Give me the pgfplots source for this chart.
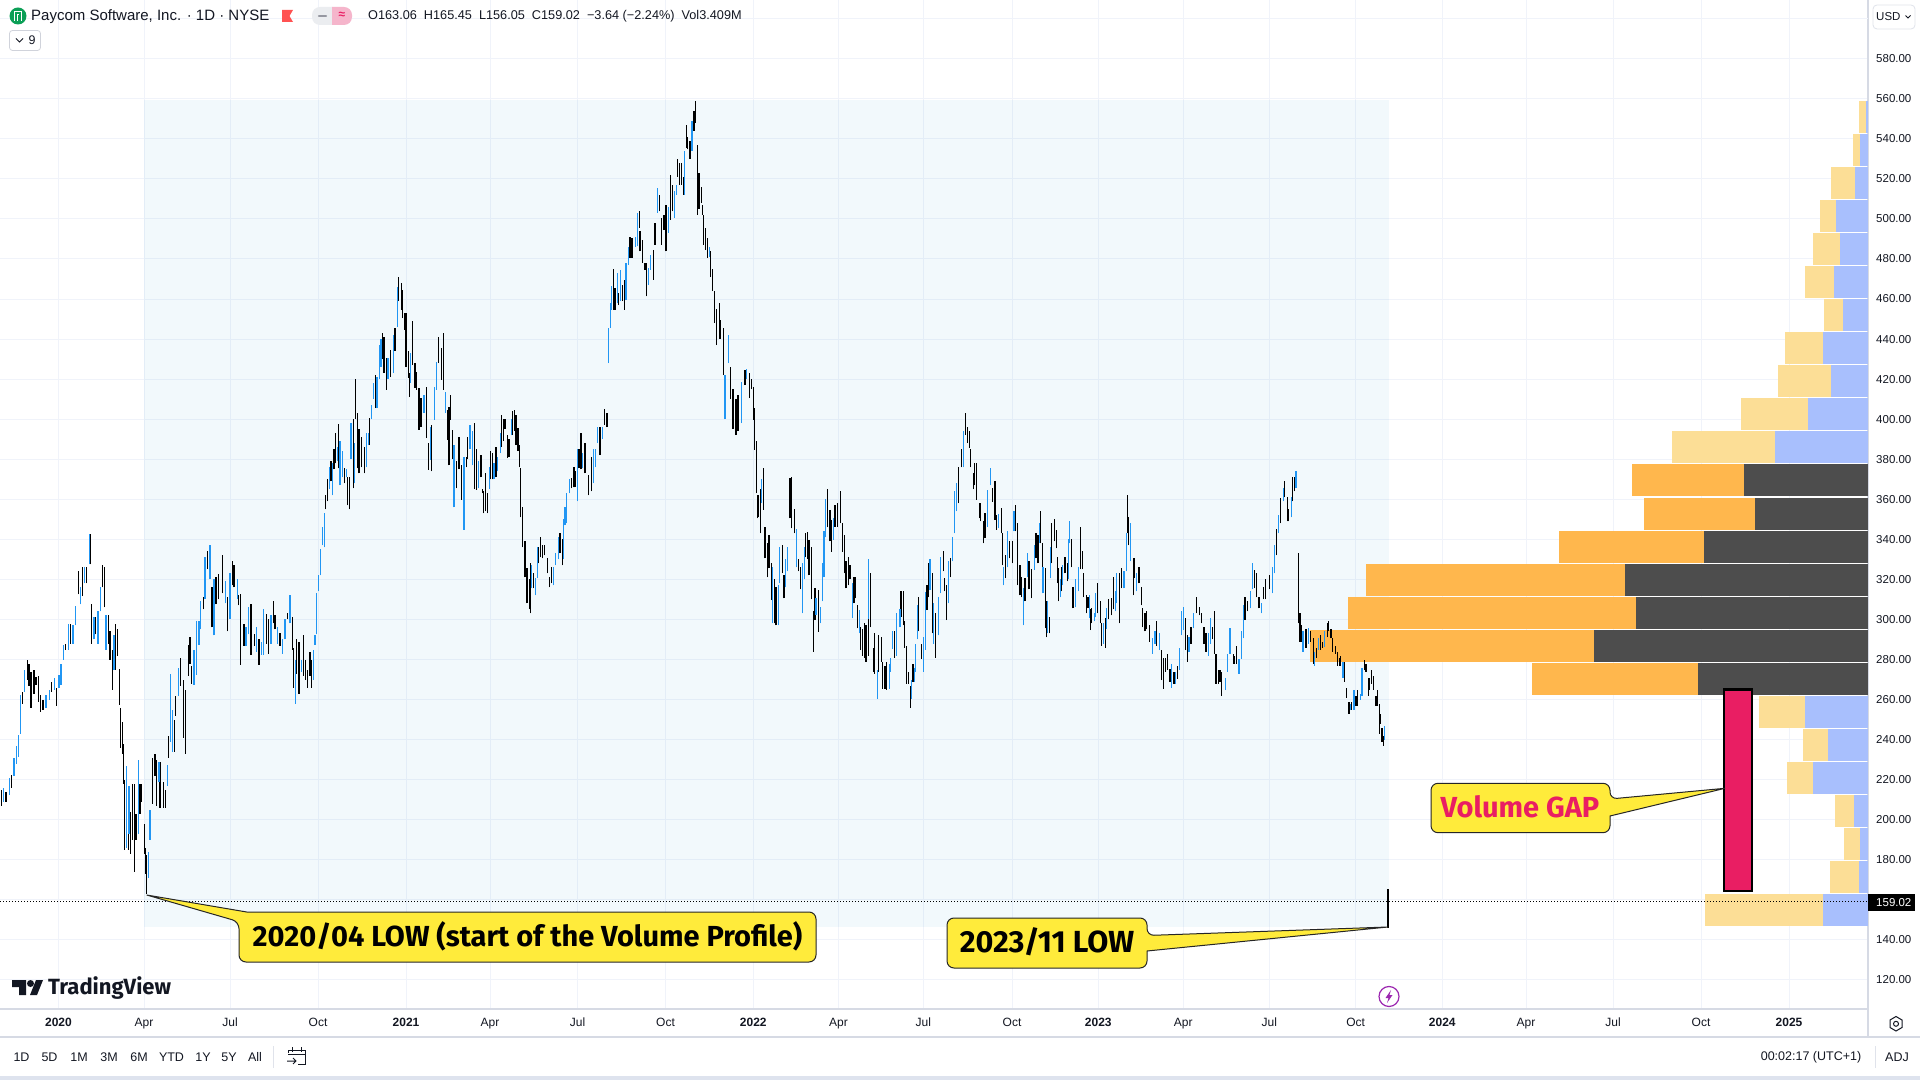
\documentclass[border=0pt]{standalone}
\usepackage{fontspec}
\setmainfont{Liberation Sans}
\newfontfamily\callfont{Fira Sans}
\usepackage{pgfplots}
\usepackage{pgfplotstable}
\pgfplotsset{compat=1.18}

\definecolor{gridc}{HTML}{F0F3FA}
\definecolor{linec}{HTML}{D6DAE4}
\definecolor{txt}{HTML}{131722}
\definecolor{upc}{HTML}{2196F3}
\definecolor{vaorange}{HTML}{FFB74D}
\definecolor{vadark}{HTML}{4D4D4D}
\definecolor{outyellow}{HTML}{FCDE96}
\definecolor{outblue}{HTML}{A8BFFD}
\definecolor{callc}{HTML}{FFEB3B}
\definecolor{pinkc}{HTML}{E91E63}
\definecolor{shade}{RGB}{0,140,200}
\definecolor{logogreen}{RGB}{11,159,86}
\definecolor{flagred}{RGB}{255,82,82}
\definecolor{pillgray}{RGB}{235,237,240}
\definecolor{pillpink}{RGB}{245,181,203}
\definecolor{dashgray}{RGB}{150,152,161}
\definecolor{boxline}{RGB}{208,211,219}
\definecolor{sepline}{RGB}{224,227,235}
\definecolor{bottombar}{RGB}{222,227,238}
\definecolor{boltc}{RGB}{156,39,176}

% daily bars, x is the screen column of the bar, lo and hi are prices
\pgfplotstableread{
x lo hi
1.7 207 215
6 209 214
11.7 216 222.5
22.7 258 264
27.3 270 280
29 267 278
31 256 274
34 263 275
36 267.5 271.5
38.3 259 272
40.7 254 262.5
43 255 260
51.7 264 269
56.7 257 266
65.7 285 288
70.7 288 297.5
78.3 312.5 324
82.3 311.7 326
86.7 318 326
90.3 327.5 342.5
91.7 288 307.5
95.7 292.5 301
102.3 316 327
104.3 306 326
108.3 288 302
110 280 294
112.3 265 285
115.7 275 297.5
117.3 282 295
119.3 257.5 275.5
120.3 236 256
122.3 233 249
123.3 218 238
124.7 185 220
128.3 185 205
130.7 183 204
132.3 190 218
134.3 174 218
136 190 203
140 203 218
141.7 209 218
144.3 183 198
145.7 173 186
146.7 163 182.5
152.7 208 231
155 222 233
156.7 207 230
160 206 229
163.3 206 219
165.7 206 215
168.3 231 242
174.3 234 250
175.7 252 262
180.3 267 281
183.3 241 270
185.3 233 265
188.3 272 287.5
190 278 291
191.7 268 277
203.3 305 311
207.3 325 334
212 296 316
216 307.5 321
218.3 310 322.5
222.7 313 332
227.7 294 311
232.3 317 329
234 316 327
238.7 307 312
240.7 277.5 312.5
244 287 297.5
251 282.5 307.5
254.3 287 292.5
259 277.5 290
266.7 288 302.5
268.3 283 300
273.3 298 309
275 295 302
280 287 293
287.3 300 303
292.3 285 301
293.3 266 286
296.7 273 290
299 263 289
303.3 272 292
305.7 270 280
307.7 266 275
310 272 284
311.7 266 280
325.3 355 362
327.7 359 370
331 369 379
334 375 385
335.7 378 393
338.3 375.5 397.7
344.3 368 375.5
347.3 357 371
349.3 355 371
353.3 365.5 400
355.7 400 420
357.7 375.5 403
359 373 395
361.7 376 391
364.3 373 386
369.3 387 400.5
375.7 405.5 422
382.7 430 443
384 423 441
386.7 414.7 430.5
390.7 421 434.7
395 434 445.5
398.7 459 471
401.7 454.7 468
402.3 450.5 464.7
405 444.7 453
406 426 453
408.3 420.5 434
409.3 411 423
412.7 427 449
415 415.5 428
416.7 414.7 423.8
419 394.7 415.5
421 396 410.5
426.7 390.5 416
428.3 374.7 388
431.7 374 397
438.7 428 441
441.7 419.7 435.5
443.3 414.7 443
447.3 389.7 404.7
449 377 406
450.3 399.7 412
452.3 380 394.7
456.7 365.5 379
459 375 391
461.7 359.7 377
466.7 376 381
467.7 380 391
474.3 365 398
476.3 364.7 385
481 371 382
482.3 363 365
483.7 353 364
485.7 354 373
487.3 353 363
490.3 370 384
492.7 370 383
496 371 386
501.3 386 402
503.3 389 400
505 395 400
507.3 380.5 392
509 381 390
512.7 392 404
514.7 394 404.5
516 387 402
518 384 395.5
519.3 376 387
520.3 351 375.5
522.3 336 356
525 321 339
527 308 325.5
529.3 305 320
530.3 303 328
533.7 315.5 323
538.3 328 336
540.3 331 341
542.3 330.5 337
544.7 332 337
547.3 323 330.5
549.3 316 321
551.3 318 326
560 333 343
562.7 327 340
571.7 365.5 370.5
574 366 376
575 366 374
579 375.5 385
581 375 393
585 373 388
588.3 362 372
591.7 364 381
600 382 396
604.3 397 405
607 396 403
613.3 454.7 475
615 454.7 465.5
618.7 457 463
622.7 459 467
624.3 454.7 469.7
630 480.5 491
632 480.5 490.5
639.3 495.5 503.8
640 483.8 493.8
642.7 478 489.7
645 474.7 478
646.7 461.3 478
653.3 469.7 484.7
655 487 498
659.3 503.8 512
661.7 487 500.5
664 494.7 502
666 483.8 507
670.3 499.7 522
672.7 503.8 517
677.7 521 530
679.3 517 528
681.3 517 528
683.3 512 521
686.3 535.5 547
687.3 534.7 541
690 530 539
694 544 554
695.3 548 559
697.3 502 537
699 505 523
701.7 508 516
702.7 502 507
703.7 487 502
705.3 484.7 495.5
707.3 480.5 490.5
710.7 471 484
712.7 464 475
714.3 448 464
716.7 437 455
719.3 440 458
720.7 440 449.7
723.3 422 445.5
730.7 410 426
733 395 415
736 392 410
738 394 412
745 417 424.7
749.3 410.5 423
751.7 415 420
753.3 399.7 416
754.3 384.7 405.5
756.3 363 389
757.3 350.5 362
758.7 351 362
760.3 343 365
763.3 354.7 375.5
765 330.5 346
767.7 321 338
769 325.5 342
771.7 309.7 328
774.3 298 320
776 297 316
782.3 323 337
784 310.5 322
790 350.5 370.5
791.7 345.5 371
794.3 343 355
798.3 324 330
800.7 315 326
805.7 331 343
807.7 330 343.8
809 322 339.7
811.7 310 336
813.3 284 304
815 299.7 315.5
818.7 293.8 314.7
827.3 346 365
830 339 354.7
831.3 333.8 349.7
835 346.3 357
837.7 346.3 358
840.7 348 364
842.3 333.8 348
844.3 323 342
846 315.5 329
848.3 317 331
850 320 327
854 308 321
855.7 310.5 321
857.3 295.5 307
860.7 284.7 296
862.7 282 295
864.3 281 298
866 279 297
868.3 282 300
870.3 296 323
873.3 274 286
874.3 273 293
878.7 274 292
881.3 279 291
882.7 265.5 279
885 265.5 277
886.7 265 279
894.3 281 294
901 301 314
903.3 297 314
904.7 286 299
906.7 268 287
908.3 268 274
910.3 256 267
913 269 278
918.7 294 311
921.7 280.5 288
927 304.7 317
928.7 311 328
932.7 293 323
935.7 281 303
943.3 324 334
944.7 314 320.5
946.7 299.7 317
950.7 321 330.5
958.7 358 376
961.3 376 385
965.7 392 403
967.7 388 396
969.3 385.5 394
970.3 376 385
973.3 365 373
974.3 367 378
976.7 359.7 378
979.3 350.5 358
980.7 349 358
983.7 338 349
985 340.5 353
992.3 358.8 365.5
995 349.7 369
996.7 344.7 352
1001.3 343 355.5
1002.7 327 343
1005.7 320.5 332
1009.7 330.5 339
1012.3 328 339
1015.7 344 357
1017.7 317 348
1020 312 327
1021.3 311 321
1025 309 320.5
1029 315 329
1031.7 310.5 325
1036 330.5 343
1038 328 342
1040.7 338 354
1042.7 316 338
1045.3 295.5 325.5
1046.3 291 309
1049.3 293 301
1051.7 328 348
1054.3 339 350
1056.3 335.5 344.7
1057.3 318 331
1058.7 309 325.5
1061.7 314 326
1065 323 331
1067.3 319 328
1071.3 326 340
1073 305.5 316
1080.3 325 346
1082.3 325 334
1083.3 311 323
1086.3 303 312
1088 305.5 311
1090.3 294.7 305
1091.7 298 305.5
1097.3 303 318
1100.3 298 309
1101.7 287 298
1105.3 286 300.5
1108.3 300 310
1111.7 302 310.5
1113.3 305 321
1119.3 298 323
1121.7 315.5 325.5
1127.3 343 362
1128.3 337 351
1133.3 312 330.5
1134.3 320.5 330.5
1139 318 326
1141.3 307 316
1142.7 296 305.5
1145 294 303
1146.7 295 304
1149.3 289 297
1156.7 287 299
1161.7 269.7 284.7
1163.3 265.5 281
1165.7 274 281
1167.7 275 283
1170 269 275.5
1174 268 274
1177.7 270.5 277
1185.7 284.7 300.5
1187.7 279 292
1191 288 296
1196.7 303 311
1199.3 302 306
1201.7 298 303
1204 288 296
1206 284 293
1212.3 290 296
1214.3 283 304
1216 268 283
1218.3 268 274.7
1220 269 275
1221.7 262 273.8
1233.3 278 283
1234.7 278 282
1236.7 278 287
1245 299.7 311
1247.7 304 309
1254.3 315.5 324.7
1256.7 311 323
1259 305.5 311
1263.3 310 316
1265.7 310 320
1269.3 315 322
1276.7 332 345
1280.7 348 360.5
1284.7 361 369
1287.3 349 361
1288.7 349 355
1292.7 359 371
1294.3 364 371
1298.3 298 333
1300 289 303
1301 289 297
1306 286 295
1310.3 289 294
1313.3 278 290.5
1316.7 281 286
1320.7 285 292
1322.7 286 289
1327.3 291 298
1328.7 294 299
1331 290.5 295
1332.7 284 290.5
1335.3 283 287
1337.3 277 284
1339.3 277 281
1340.7 277 282
1344.3 269 279
1346.7 261 266
1349 253 259
1351.7 255 259
1356 257 262
1357.7 257 265
1364.3 275 280
1366 274 278
1368.3 262 271
1369.7 265 271
1371.3 268 275
1373.3 265 272
1376 257 262
1377.3 257 265
1379.3 243 258
1380.3 248 253
1382 239 246
1383.3 237 242
1388 146 165.45
}\downbars

\pgfplotstableread{
x lo hi
3.3 209 216
9.3 212.5 221
14 222 231
16.7 228 237
18.7 231.5 242.5
20.3 243 262.5
24.3 264 275
46 256 262.5
49.3 260 265
54.3 265 271
59 266 272.5
61 267.5 278
63.3 280 287.5
68.7 285 297.5
73 288 297
75.7 297 306.7
80.3 307.5 316
84.3 318 326
89.3 327.5 342.5
94 290 301
98 288 304
100.3 304 316
106 285 302
114 275 292
126.7 186 227
129 193 217
138.3 193 230
148.3 171 184
150 190 205
159 219 229
167.3 217 227.5
170.3 239 273
172.7 234 255
178.3 262 276
194 267.5 285
196.7 272.5 299
199 287.5 299
200.7 295 309
205 310 331
210 320 337
214 292 320
225.7 308 319
230 300 323
237.3 310 320
246 287 296
248.3 292.5 306
256.7 284 296
261.7 282.5 289
263.3 282.5 305
271 288 302
277.3 288 296
282.7 283 290
285 290 300
290 298 312
295.3 258 280
301.7 274 280
313.7 270 285
315 287.5 292
316.7 292.5 313
318.3 314 322
320.7 322 335
322.3 337 346
324.3 336 353
329.3 365 376
332.7 362 378
337.3 379 386
340 367 389
342.3 371 384
346.3 371 375
351 380 398
354.7 368 388
366.7 376 393
368.3 387 393
371.7 400 407
373.3 410 418
377 405.5 421
379.3 420 437
381 426.3 440
388 420 430.5
393.3 423 442
397.3 446 466
410.3 418 433
424 403 412
430.7 379.7 396
434.7 399.7 416.3
436.7 414.7 428.8
445.7 403 413.8
454 356 387
464 344.7 381
470 385 397
472.3 377 394
478.3 365.5 379
489.3 365 376
494 370 378
497.7 374 381
500.3 383 393
511.3 392 400
531.7 315.5 327
535.3 312 320.5
537.7 320.5 336
553.3 317 326
555.7 327 333
558.3 330 341
563.7 330 350
565 347 356
566.7 348 363
569.3 363 370
577.3 359 385
582.7 375.5 383
593.3 368 385
595.3 376 385
597.3 388 396
602.3 390 396
608.3 428 445.5
610.3 445.5 458
611.7 454.7 466.7
617.3 458 473
620.7 459 474.7
626 459.7 478
628.3 477 486
635.3 486 491
637.3 486.3 503
648.3 467 475.5
650.7 474.7 482
657.7 503 515.5
668.3 493 506
674.3 500.5 514
676.7 512 517
684.3 512 534
692 534 549
709.3 481 486
725 400 422
728.3 428 442
741.7 398 418.8
746.7 420 425
761.7 358 370
772.7 298 326
778.3 297 317
779.7 318 336
785.7 316 330
787.3 324 336
796.7 326 345
802.3 303 328
804.3 320 336
816 302 310.5
820.3 298 306.3
822.7 309 328
824 321 344
825.7 341 360
833.3 339.7 350.5
852.3 300.5 318
859.3 293 304.7
868.3 300 330
877.3 260.5 275
889.3 265.5 278
890.3 274 281
892.7 285.5 294
896.7 282 303
900 296 305.3
911.3 260.5 270
914.3 269 276
915.7 274 288
917.7 290 307
923.3 274 291
925.3 285 313.8
930 314.7 330
933.7 288 308
938.3 292 311
940.7 313 331
948.3 308 329
952.3 329 341
954.3 343 364
956.7 354 368
963.3 376 394
987.7 346.3 364.7
990.7 367 375.5
998.7 345.5 352.5
1003.7 317 326
1007.7 326 344
1014 344 354
1023.7 297 315.5
1027.3 321 333
1034.3 324.7 337
1039.7 338 348
1043 313 326
1047.3 293 309
1050.7 320.5 336
1060.7 311 320
1062.7 317 327
1068.3 320 340
1069.3 338 349
1075.7 306 320
1078.7 314 326
1089.3 300.5 312
1094.3 299 303
1095.3 301 313
1103.3 288 298
1106.7 295 305.5
1115.7 304 314
1116.7 308 323
1124 315.5 324
1126.3 324 343
1130.7 329 348
1136.7 314 323
1152.7 283 290.5
1155 288 294
1159.7 284.7 293
1171.7 266 278
1175.3 268 274
1179.3 274.7 286
1181.7 292 304
1183.3 294.7 306
1189 284 291
1193.3 295.5 303
1208.3 282 293
1210.7 288 300.5
1225.7 264.7 271
1227.3 273.8 283
1230 283 295.5
1239 273 280.5
1241.3 280.5 294
1243.3 290.5 307
1250.3 305.5 314
1252.3 315 328
1261.7 303 308
1272.3 313 326
1274.3 323 337
1278.3 343 352
1283.3 359 365.5
1291.7 351 361
1296 365.5 374
1303 284 294
1308.3 288 295.5
1314.3 277 284
1318.3 285 290.5
1324.7 286.3 294
1343 271 279
1350.7 255 258
1354 255 265
1360.7 260 263
1362 262 276
1384.3 240 247
}\upbars

% volume profile rows: centre price, left end, split, right end (screen columns)
\pgfplotstableread{
p l s r
270.4 1532 1698 1868
286.9 1310 1594 1868
303.4 1348 1636 1868
319.9 1366 1625 1868
336.4 1559 1704 1868
352.9 1644 1755 1868
369.4 1632 1744 1868
}\vainside

\pgfplotstableread{
p l s r
154.9 1705 1823 1868
171.4 1830 1859 1868
187.9 1844 1860 1868
204.4 1835 1854 1868
220.9 1787 1813 1868
237.4 1803 1828 1868
253.9 1759 1805 1868
385.9 1672 1775 1868
402.4 1741 1808 1868
418.9 1778 1831 1868
435.4 1785 1823 1868
451.9 1824 1843 1868
468.4 1805 1834 1868
484.9 1813 1840 1868
501.4 1820 1836 1868
517.9 1831 1855 1868
534.4 1853 1860 1868
551 1859 1866 1868
}\vaoutside

\pgfplotsset{
  bars/.style={forget plot, no marks, draw=none,
    error bars/.cd, y dir=plus, y explicit, error mark=none,
    error bar style={draw=#1, line width=1.2pt}},
  row/.style={forget plot, no marks, draw=none,
    error bars/.cd, x dir=plus, x explicit, error mark=none,
    error bar style={draw=#1, line width=32pt}},
}

\begin{document}
\begin{tikzpicture}
\path[use as bounding box, fill=white] (0,0) rectangle (1920pt,1080pt);

\begin{axis}[
    at={(0pt,71pt)}, anchor=south west,
    scale only axis, width=1868pt, height=1009pt,
    xmin=0, xmax=1868, ymin=105.5, ymax=609.3,
    axis x line=bottom, axis y line=right,
    axis line style={-, draw=linec, line width=1.5pt},
    major tick length=0pt,
    grid=major, grid style={draw=gridc, line width=1pt},
    ytick={120,140,...,580},
    extra y ticks={600}, extra y tick labels={},
    extra y tick style={grid=major},
    /pgf/number format/assume math mode=true,
    /pgf/number format/fixed, /pgf/number format/fixed zerofill,
    /pgf/number format/precision=2, /pgf/number format/1000 sep={},
    yticklabel style={font=\fontsize{11.5}{13}\selectfont, text=txt, inner sep=0pt, anchor=west, xshift=8pt},
    xtick={58.5,144,230,318,406,490,577.5,665.5,753.3,838.5,923.3,1012,1098.3,1183.3,1269.3,1355.7,1442.3,1526,1613,1701,1789},
    xticklabels={\textbf{2020},Apr,Jul,Oct,\textbf{2021},Apr,Jul,Oct,\textbf{2022},Apr,Jul,Oct,\textbf{2023},Apr,Jul,Oct,\textbf{2024},Apr,Jul,Oct,\textbf{2025}},
    xticklabel style={font=\fontsize{12}{14}\selectfont, text=txt, inner sep=0pt, anchor=base, yshift=-17pt},
]
% range of the volume profile
\addplot[forget plot, draw=none, fill=shade, fill opacity=0.05]
    coordinates {(144,146.5) (1389,146.5) (1389,559.5) (144,559.5)} --cycle;

\addplot[row=vaorange] table[x=l, y=p, x error expr=\thisrow{s}-\thisrow{l}] {\vainside};
\addplot[row=vadark] table[x=s, y=p, x error expr=\thisrow{r}-\thisrow{s}] {\vainside};
\addplot[row=outyellow] table[x=l, y=p, x error expr=\thisrow{s}-\thisrow{l}] {\vaoutside};
\addplot[row=outblue] table[x=s, y=p, x error expr=\thisrow{r}-\thisrow{s}] {\vaoutside};

\addplot[bars=black] table[x=x, y=lo, y error expr=\thisrow{hi}-\thisrow{lo}] {\downbars};
\addplot[bars=upc] table[x=x, y=lo, y error expr=\thisrow{hi}-\thisrow{lo}] {\upbars};

% last price
\addplot[forget plot, black, line width=0.8pt, dash pattern=on 1pt off 2pt] coordinates {(0,159.02) (1868,159.02)};
\end{axis}

% screen furniture, written in screen pixels
\begin{scope}[x=1pt, y=-1pt, yshift=1080pt, font=\fontsize{12.5}{14}\selectfont, text=txt]
  % callouts
  \draw[fill=callc, draw=black!85, line width=1pt]
    (246.7,912) [rounded corners=7pt] -- (816,912) -- (816,962) -- (239,962) -- (239,921.7) [sharp corners] -- (146.7,895) -- cycle;
  \node[font=\callfont\bfseries\fontsize{29}{32}\selectfont, text=black] at (527.5,936) {2020/04 LOW (start of the Volume Profile)};
  \draw[fill=callc, draw=black!85, line width=1pt]
    (1000,918) [rounded corners=7pt] -- (1147,918) -- (1147,935.5) [sharp corners] -- (1388,927) -- (1147,951) [rounded corners=7pt] -- (1147,968) -- (947,968) -- (947,918) -- cycle;
  \node[font=\callfont\bfseries\fontsize{30.5}{33}\selectfont, text=black] at (1047,942) {2023/11 LOW};
  \draw[fill=pinkc, draw=black, line width=2.2pt] (1724,689.5) rectangle (1752,891);
  \draw[fill=callc, draw=black!85, line width=1pt]
    (1500,783.3) [rounded corners=7pt] -- (1610,783.3) -- (1610,799) [sharp corners] -- (1725,788.3) -- (1610,816) [rounded corners=7pt] -- (1610,832.7) -- (1431,832.7) -- (1431,783.3) -- cycle;
  \node[font=\callfont\bfseries\fontsize{29}{32}\selectfont, text=pinkc] at (1520,807) {Volume GAP};

  % axis furniture
  \fill[black] (1868,894) rectangle (1915,911);
  \node[text=white, font=\fontsize{11.5}{13}\selectfont, inner sep=0pt, anchor=west] at (1876,902.5) {159.02};
  \draw[linec, line width=1.5pt] (0,1037) -- (1920,1037);
  \draw[linec, line width=1.5pt] (1868,1009) -- (1868,1037);
  \fill[bottombar] (0,1076) rectangle (1920,1080);

  % header
  \fill[logogreen] (18,16) circle (8.5);
  \draw[white, line width=1.6pt] (14.5,21) -- (14.5,11.5) -- (21.5,11.5) -- (21.5,21);
  \draw[white, line width=1.3pt] (17.5,21) -- (17.5,14.5) -- (19,14.5);
  \node[anchor=west, inner sep=0pt, font=\fontsize{15}{17}\selectfont] at (31,16.5) {Paycom Software, Inc. · 1D · NYSE};
  \fill[flagred] (282,10) -- (293,10) -- (289.5,16) -- (293,22) -- (282,22) -- cycle;
  \fill[pillgray, rounded corners=8pt] (312,7) rectangle (340,25);
  \fill[pillpink, rounded corners=8pt] (324,7) rectangle (352,25);
  \fill[pillgray] (320,7) rectangle (332,25);
  \draw[dashgray, line width=2.4pt, line cap=round] (319,16) -- (326,16);
  \node[text=pinkc, font=\fontsize{12}{14}\bfseries\selectfont, inner sep=0pt] at (342,15.5) {≈};
  \node[anchor=west, inner sep=0pt, font=\fontsize{12.7}{14}\selectfont] at (368,16.5) {O163.06\ \ H165.45\ \ L156.05\ \ C159.02\ \ −3.64 (−2.24\%)\ \ Vol3.409M};
  \draw[boxline, rounded corners=3pt, line width=0.8pt] (9.5,30.5) rectangle (40.5,50.5);
  \draw[txt, line width=1pt] (16,38.5) -- (19.5,42) -- (23,38.5);
  \node[inner sep=0pt] at (32,40.5) {9};
  \draw[sepline, rounded corners=4pt, line width=0.8pt] (1873,5) rectangle (1915,29);
  \node[anchor=west, inner sep=0pt, font=\fontsize{11.5}{13}\selectfont] at (1876,16.5) {USD};
  \draw[txt, line width=0.8pt] (1905.5,15.5) -- (1908,18) -- (1910.5,15.5);

  % logo and event marker
  \fill[txt] (12,980) -- (26,980) -- (26,995) -- (19,995) -- (19,987) -- (12,987) -- cycle;
  \fill[txt] (30.5,983.5) circle (3.5);
  \fill[txt] (36,980) -- (43,980) -- (37,995) -- (30,995) -- cycle;
  \node[anchor=west, inner sep=0pt, font=\callfont\fontsize{22}{24}\selectfont\bfseries] at (48,988) {TradingView};
  \draw[boltc, line width=1.2pt] (1389,996.5) circle (10);
  \fill[boltc] (1391,990) -- (1385.5,998) -- (1388.5,998) -- (1387,1003) -- (1392.5,995) -- (1389.5,995) -- cycle;
  \draw[txt, line width=1pt] (1896,1016.5) -- (1902,1020) -- (1902,1027.5) -- (1896,1031) -- (1890,1027.5) -- (1890,1020) -- cycle;
  \draw[txt, line width=1pt] (1896,1023.8) circle (2.5);

  % bottom bar
  \foreach \t/\c in {1D/21.5,5D/49.5,1M/79,3M/109,6M/139,YTD/171.5,1Y/203,5Y/229,All/255}
    \node[inner sep=0pt] at (\c,1057) {\t};
  \draw[sepline, line width=1pt] (273.7,1046) -- (273.7,1068);
  \draw[txt, line width=1pt] (288,1053) -- (288,1050) -- (305,1050) -- (305,1064) -- (298,1064);
  \draw[txt, line width=1pt] (288,1054.5) -- (305,1054.5);
  \draw[txt, line width=1pt] (292,1047) -- (292,1052) (301,1047) -- (301,1052);
  \draw[txt, line width=1pt] (287,1061) -- (296,1061) (293,1058) -- (296,1061) -- (293,1064);
  \node[inner sep=0pt] at (1811,1057) {00:02:17 (UTC+1)};
  \draw[sepline, line width=1pt] (1875,1046) -- (1875,1068);
  \node[inner sep=0pt] at (1897,1057) {ADJ};
\end{scope}
\end{tikzpicture}
\end{document}
